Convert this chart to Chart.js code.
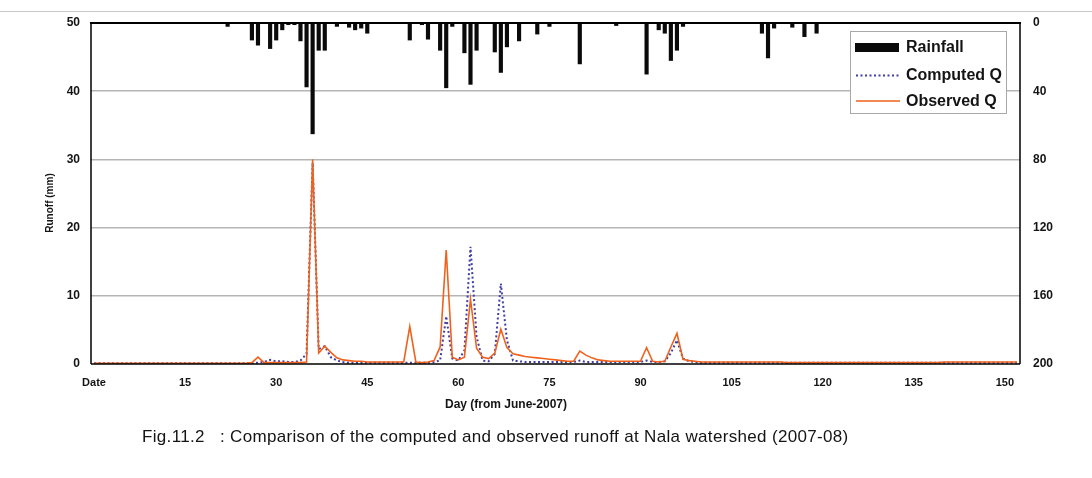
<!DOCTYPE html>
<html>
<head>
<meta charset="utf-8">
<script src="https://cdn.jsdelivr.net/npm/chart.js@4.4.1/dist/chart.umd.min.js"></script>
<style>
  html, body { margin: 0; padding: 0; background: #ffffff; }
  body { width: 1092px; height: 478px; position: relative; overflow: hidden; font-family: "Liberation Sans", Arial, sans-serif; }
  #wrap { position: absolute; left: 0; top: 0; width: 1092px; height: 478px; }
  #topline { position: absolute; left: 0; top: 11px; width: 1092px; height: 1px; background: #c9c9c9; }
  #caption { position: absolute; left: 142px; top: 427px; font-size: 17px; letter-spacing: 0.33px; color: #141414; white-space: pre; line-height: 20px; }
</style>
</head>
<body>
<div id="topline"></div>
<div id="wrap"><canvas id="c" width="1092" height="478"></canvas></div>
<div id="caption">Fig.11.2   : Comparison of the computed and observed runoff at Nala watershed (2007-08)</div>
<script>
// ---- data (day index 0..152; first category is labelled "Date") ----
const dayLabels = ['Date',1,2,3,4,5,6,7,8,9,10,11,12,13,14,15,16,17,18,19,20,21,22,23,24,25,26,27,28,29,
  30,31,32,33,34,35,36,37,38,39,40,41,42,43,44,45,46,47,48,49,50,51,52,53,54,55,56,57,58,59,
  60,61,62,63,64,65,66,67,68,69,70,71,72,73,74,75,76,77,78,79,80,81,82,83,84,85,86,87,88,89,
  90,91,92,93,94,95,96,97,98,99,100,101,102,103,104,105,106,107,108,109,110,111,112,113,114,115,116,117,118,119,
  120,121,122,123,124,125,126,127,128,129,130,131,132,133,134,135,136,137,138,139,140,141,142,143,144,145,146,147,148,149,
  150,151,152];

const rainfall = [
  0,0,0,0,0,0,0,0,0,0,
  0,0,0,0,0,0,0,0,0,0,
  0,0,2,0,0,0,10,13,0,15,
  10,4,1,1,10.5,37.5,65,16,16,0,
  2,0,2.5,4,3,6,0,0,0,0,
  0,0,10,0,1,9.5,0,16,38,2,
  0,17.5,36,16,0,0,17,29,14,0,
  10.5,0,0,6.5,0,2,0,0,0,0,
  24,0,0,0,0,0,1.5,0,0,0,
  0,30,0,4,6,22,16,2,0,0,
  0,0,0,0,0,0,0,0,0,0,
  6,20.5,3,0,0,2.5,0,8,0,6,
  0,0,0,0,0,0,0,0,0,0,
  0,0,0,0,0,0,0,0,0,0,
  0,0,0,0,0,0,0,0,0,0,
  0,0,0];

const computedQ = [
  0.1,0.1,0.1,0.1,0.1,0.1,0.1,0.1,0.1,0.1,
  0.1,0.1,0.1,0.1,0.1,0.1,0.1,0.1,0.1,0.1,
  0.1,0.1,0.1,0.1,0.1,0.1,0.1,0.2,0.3,0.6,
  0.4,0.4,0.3,0.3,0.5,1.5,29.5,2.2,2.6,1.0,
  0.5,0.3,0.2,0.2,0.2,0.2,0.2,0.2,0.2,0.2,
  0.2,0.2,0.2,0.2,0.2,0.2,0.3,0.5,7.0,0.8,
  0.5,2.0,17.2,4.0,0.5,0.4,1.5,11.8,3.5,0.5,
  0.4,0.3,0.3,0.3,0.3,0.3,0.3,0.3,0.3,0.3,
  0.5,0.3,0.3,0.3,0.3,0.3,0.3,0.3,0.3,0.3,
  0.3,0.5,0.3,0.3,0.4,1.6,3.5,0.8,0.4,0.3,
  0.2,0.2,0.2,0.2,0.2,0.2,0.2,0.2,0.2,0.2,
  0.2,0.2,0.2,0.2,0.2,0.2,0.2,0.2,0.2,0.2,
  0.2,0.2,0.2,0.2,0.2,0.2,0.2,0.2,0.2,0.2,
  0.2,0.2,0.2,0.2,0.2,0.2,0.2,0.2,0.2,0.2,
  0.2,0.2,0.2,0.2,0.2,0.2,0.2,0.2,0.2,0.2,
  0.2,0.2,0.2];

const observedQ = [
  0.1,0.1,0.1,0.1,0.1,0.1,0.1,0.1,0.1,0.1,
  0.1,0.1,0.1,0.1,0.1,0.1,0.1,0.1,0.1,0.1,
  0.1,0.1,0.1,0.1,0.1,0.1,0.2,1.0,0.2,0.2,
  0.2,0.2,0.2,0.2,0.2,0.3,30.0,1.6,2.6,1.7,
  0.9,0.6,0.5,0.4,0.4,0.3,0.3,0.3,0.3,0.3,
  0.3,0.3,5.5,0.3,0.2,0.3,0.5,2.5,16.7,1.0,
  0.6,1.0,9.5,2.3,1.0,0.8,1.6,5.1,2.4,1.5,
  1.3,1.1,1.0,0.9,0.8,0.7,0.6,0.5,0.4,0.4,
  1.9,1.3,0.9,0.6,0.5,0.4,0.4,0.4,0.4,0.4,
  0.4,2.4,0.4,0.3,0.4,2.5,4.5,0.7,0.5,0.4,
  0.3,0.3,0.3,0.3,0.3,0.3,0.3,0.3,0.3,0.3,
  0.3,0.3,0.3,0.3,0.2,0.2,0.2,0.2,0.2,0.2,
  0.2,0.2,0.2,0.2,0.2,0.2,0.2,0.2,0.2,0.2,
  0.2,0.2,0.2,0.2,0.2,0.2,0.2,0.2,0.2,0.2,
  0.3,0.3,0.3,0.3,0.3,0.3,0.3,0.3,0.3,0.3,
  0.3,0.3,0.3];

const seriesNames = ['Rainfall', 'Computed Q', 'Observed Q'];
const runoffTicks = [0, 10, 20, 30, 40, 50];
const rainTicks = [0, 40, 80, 120, 160, 200];
const xTitle = 'Day (from June-2007)';
const yTitle = 'Runoff (mm)';

// ---- styles ----
const FONT = '"Liberation Sans", Arial, sans-serif';
const C_RAIN = '#0a0a0a';
const C_COMP = '#3f3fa5';
const C_OBS = '#f0621c';

const framePlugin = {
  id: 'frame',
  afterDraw(chart) {
    const ctx = chart.ctx;
    const a = chart.chartArea;
    ctx.save();
    ctx.strokeStyle = '#000';
    ctx.lineWidth = 1.5;
    ctx.beginPath();
    ctx.moveTo(a.left, a.bottom); ctx.lineTo(a.right, a.bottom);
    ctx.moveTo(a.left, a.top); ctx.lineTo(a.left, a.bottom);
    ctx.moveTo(a.right, a.top); ctx.lineTo(a.right, a.bottom);
    ctx.stroke();
    ctx.lineWidth = 2.2;
    ctx.beginPath();
    ctx.moveTo(a.left - 1, a.top); ctx.lineTo(a.right + 1, a.top);
    ctx.stroke();

    // axis titles
    ctx.fillStyle = '#141414';
    ctx.font = 'bold 10px ' + FONT;
    ctx.textAlign = 'center';
    ctx.textBaseline = 'middle';
    ctx.save();
    ctx.translate(50, 203);
    ctx.rotate(-Math.PI / 2);
    ctx.fillText(yTitle, 0, 0);
    ctx.restore();
    ctx.font = 'bold 12px ' + FONT;
    ctx.fillText(xTitle, 506, 405);

    // legend
    const bx = 850.5, by = 31.5, bw = 156, bh = 82;
    ctx.fillStyle = '#fff';
    ctx.fillRect(bx, by, bw, bh);
    ctx.strokeStyle = '#a8a8a8';
    ctx.lineWidth = 1;
    ctx.strokeRect(bx, by, bw, bh);
    ctx.fillStyle = C_RAIN;
    ctx.fillRect(855, 43, 44, 9);
    ctx.strokeStyle = C_COMP;
    ctx.lineWidth = 2;
    ctx.setLineDash([2, 2.5]);
    ctx.beginPath(); ctx.moveTo(856, 75.5); ctx.lineTo(900, 75.5); ctx.stroke();
    ctx.setLineDash([]);
    ctx.strokeStyle = C_OBS;
    ctx.lineWidth = 1.6;
    ctx.beginPath(); ctx.moveTo(856, 101); ctx.lineTo(900, 101); ctx.stroke();
    ctx.fillStyle = '#141414';
    ctx.font = 'bold 16px ' + FONT;
    ctx.textAlign = 'left';
    ctx.textBaseline = 'middle';
    ctx.fillText(seriesNames[0], 906, 47.5);
    ctx.fillText(seriesNames[1], 906, 75.5);
    ctx.fillText(seriesNames[2], 906, 102);
    ctx.restore();
  }
};

new Chart(document.getElementById('c'), {
  data: {
    labels: dayLabels,
    datasets: [
      { type: 'bar', label: seriesNames[0], data: rainfall, yAxisID: 'yRain',
        backgroundColor: C_RAIN, borderWidth: 0, barThickness: 3.5, order: 3 },
      { type: 'line', label: seriesNames[1], data: computedQ, yAxisID: 'y',
        borderColor: C_COMP, borderWidth: 2, borderDash: [2, 2.5], pointRadius: 0, tension: 0, fill: false, order: 2 },
      { type: 'line', label: seriesNames[2], data: observedQ, yAxisID: 'y',
        borderColor: C_OBS, borderWidth: 1.6, pointRadius: 0, tension: 0, fill: false, order: 1 }
    ]
  },
  options: {
    responsive: false,
    devicePixelRatio: 1,
    animation: false,
    layout: { padding: { top: 23, left: 0, right: 0, bottom: 0 } },
    plugins: { legend: { display: false }, tooltip: { enabled: false } },
    scales: {
      x: {
        type: 'category',
        offset: true,
        grid: { display: false, drawTicks: false },
        border: { display: false },
        ticks: {
          autoSkip: false, maxRotation: 0, minRotation: 0, padding: 12,
          color: '#141414', font: { family: FONT, size: 11, weight: 'bold' },
          callback: function (v, i) { return i % 15 === 0 ? String(this.getLabelForValue(v)) : ''; }
        },
        afterFit: s => { s.height = 478 - 364; }
      },
      y: {
        position: 'left', min: 0, max: 50,
        afterBuildTicks: s => { s.ticks = runoffTicks.map(v => ({ value: v })); },
        grid: {
          drawTicks: false, lineWidth: 1.5,
          color: c => (c.tick && (c.tick.value === 0 || c.tick.value === 50)) ? 'rgba(0,0,0,0)' : '#b5b5b5'
        },
        border: { display: false },
        ticks: { padding: 11, color: '#141414', font: { family: FONT, size: 12, weight: 'bold' } },
        afterFit: s => { s.width = 91; }
      },
      yRain: {
        position: 'right', min: 0, max: 200, reverse: true,
        afterBuildTicks: s => { s.ticks = rainTicks.map(v => ({ value: v })); },
        grid: { display: false, drawTicks: false },
        border: { display: false },
        ticks: { padding: 13, color: '#141414', font: { family: FONT, size: 12, weight: 'bold' } },
        afterFit: s => { s.width = 1092 - 1020; }
      }
    }
  },
  plugins: [framePlugin]
});
</script>
</body>
</html>
